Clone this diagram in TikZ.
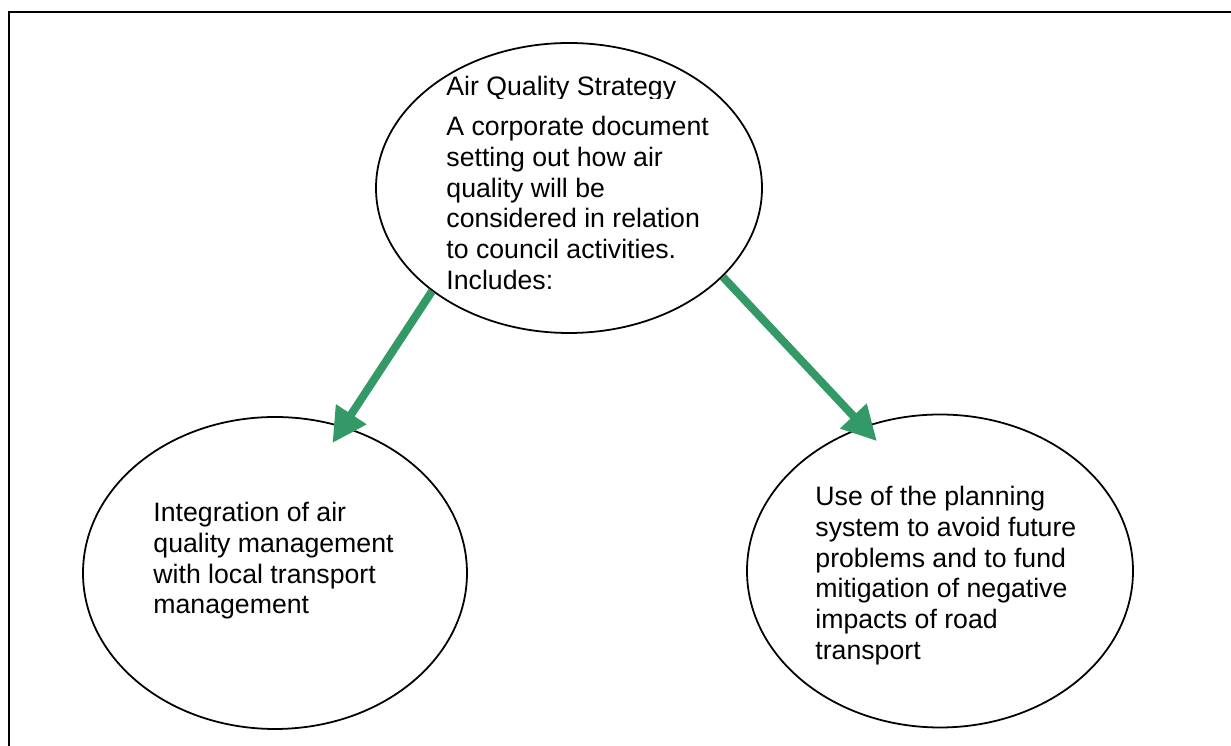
\documentclass[tikz,border=0pt]{standalone}
\usepackage{fontspec}
\setmainfont{Liberation Sans}
\usetikzlibrary{arrows.meta,shapes.geometric}
\definecolor{ink}{HTML}{000000}
\definecolor{leaf}{HTML}{339966}

\begin{document}
\begin{tikzpicture}[
  x=0.45pt, y=-0.45pt,
  font=\fontsize{12}{13.8}\selectfont,
  bubble/.style={ellipse, draw=ink, line width=0.8pt, inner sep=0pt},
  txt/.style={anchor=north west, align=left, inner sep=0pt, text=ink},
  frame/.style={draw=ink, line width=0.9pt},
  arr/.style={-{Triangle[length=15.5pt, width=15.5pt]}, line width=3.6pt, draw=leaf, shorten >=-9pt},
]
\useasboundingbox (0,0) rectangle (1231,746);
\draw[frame] (9,12) rectangle (1245,760);
% the three ellipses
\node[bubble, minimum width=386*0.45pt, minimum height=290*0.45pt] (strategy) at (569,188) {};
\node[bubble, minimum width=384*0.45pt, minimum height=312*0.45pt] (transport) at (275,573) {};
\node[bubble, minimum width=386*0.45pt, minimum height=313*0.45pt] (planning) at (940,571) {};
% heading, cut off by its text frame
\begin{scope}
\clip (380,40) rectangle (760,99);
\node[txt] (title) at (446,76) {Air Quality Strategy};
\end{scope}
\node[txt] (strategytext) at (446,116) {A corporate document\\setting out how air\\quality will be\\considered in relation\\to council activities.\\Includes:};
\node[txt] (transporttext) at (153,502) {Integration of air\\quality management\\with local transport\\management};
\node[txt] (planningtext) at (815,486) {Use of the planning\\system to avoid future\\problems and to fund\\mitigation of negative\\impacts of road\\transport};
\draw[arr] (strategy.217) -- (transport.65.6);
\draw[arr] (strategy.330.9) -- (planning.118.4);
\end{tikzpicture}
\end{document}
